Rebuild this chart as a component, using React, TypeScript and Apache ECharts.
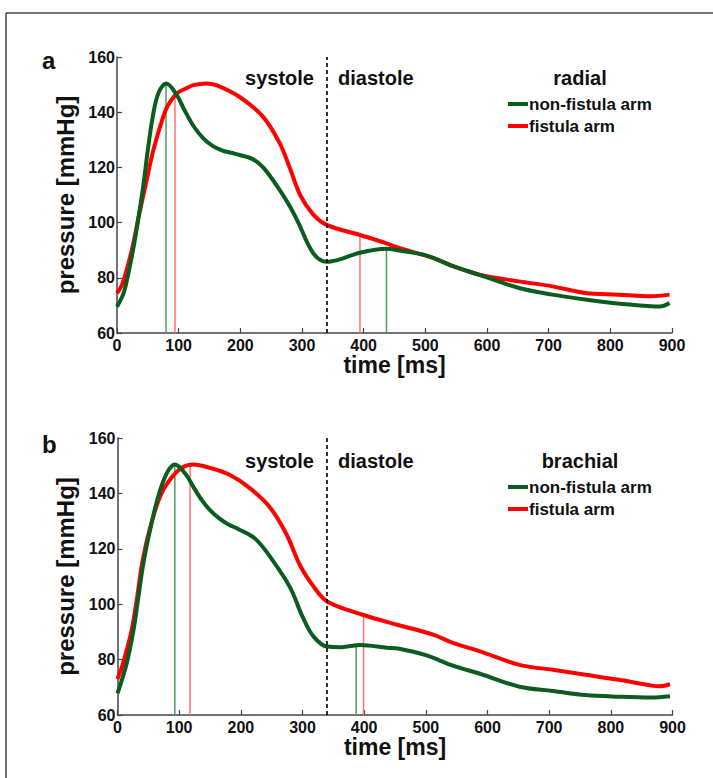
import React, { useEffect, useRef } from "react";
import * as echarts from "echarts";

// ---------- data ----------
const timeTicks = [0, 100, 200, 300, 400, 500, 600, 700, 800, 900];
const pressureTicks = [60, 80, 100, 120, 140, 160];
const phaseBoundary = 340;

// panel a: radial
const radialGreenT = [0, 10, 15, 26, 35, 43, 50, 58, 67, 80, 97, 110, 124, 140, 155, 170, 185, 199, 220, 237, 264, 280, 294, 318, 340, 360, 394, 437, 455, 500, 545, 589, 652, 706, 759, 800, 866, 880, 896];
const radialGreenP = [69.5, 74, 78, 90, 102, 114, 126.3, 138.4, 146.8, 150.4, 146.2, 140.5, 135, 130.5, 127.8, 126.2, 125.3, 124.5, 123, 120, 111.8, 106, 100, 89, 85.8, 86.6, 89.1, 90.5, 90, 88.2, 84.2, 81, 76.3, 73.9, 72.1, 71, 69.7, 69.6, 70.9];
const radialRedT = [0, 9, 24, 35, 47, 59, 75, 83, 97, 112, 124, 145, 161, 199, 237, 264, 280, 297, 318, 340, 394, 437, 455, 513, 545, 589, 652, 706, 759, 813, 866, 896];
const radialRedP = [74.4, 78, 90, 102, 114.2, 126.3, 138.4, 142.6, 146.8, 148.6, 149.8, 150.4, 149.8, 145.5, 138.3, 128.7, 120, 110, 103, 99.2, 95.5, 92.5, 91, 87.1, 84.2, 81, 78.7, 76.9, 74.5, 73.9, 73.3, 73.9];
const radialGreenMarkT = [79.5, 437];
const radialGreenMarkP = [150.4, 90.5];
const radialRedMarkT = [94, 394];
const radialRedMarkP = [146.3, 95.5];

// panel b: brachial
const brachialGreenT = [0, 15, 26, 34, 42, 53, 66, 80, 93, 100, 112, 124, 137, 150, 165, 180, 197, 224, 251, 280, 300, 318, 340, 363, 394, 437, 455, 500, 544, 589, 652, 706, 759, 813, 866, 896];
const brachialGreenP = [67.8, 78.7, 90.7, 102.8, 114.8, 126.9, 138.9, 147.3, 150.4, 149.6, 146.5, 142, 137.5, 134, 131, 128.8, 127, 123.5, 116, 106, 95.5, 88.3, 84.7, 84.5, 85.3, 84.3, 84, 81.6, 77.8, 74.8, 70.2, 68.7, 67.2, 66.6, 66.3, 66.8];
const brachialRedT = [0, 9, 23, 32, 40, 52, 69, 85, 104, 123, 150, 181, 214, 246, 273, 297, 318, 340, 399, 455, 513, 544, 589, 652, 706, 759, 813, 866, 880, 896];
const brachialRedP = [73, 78.7, 90.7, 102.8, 114.8, 126.9, 138.9, 144.9, 149.2, 150.4, 149.2, 146.8, 142, 135.3, 125.7, 113.6, 106.4, 101, 96.1, 92.5, 88.9, 86, 82.9, 78.1, 76.3, 74.5, 72.7, 70.6, 70.4, 71.1];
const brachialGreenMarkT = [93, 387];
const brachialGreenMarkP = [150.4, 84.6];
const brachialRedMarkT = [117.6, 399];
const brachialRedMarkP = [150.3, 96.1];

const panelLetters = ["a", "b"];
const panelSites = ["radial", "brachial"];
const phaseNames = ["systole", "diastole"];
const seriesNames = ["non-fistula arm", "fistula arm"];

// ---------- styles ----------
const FONT = "'Liberation Sans', Arial, Helvetica, sans-serif";
const GREEN = "#0b5c1f";
const RED = "#ff0000";
const GREEN_THIN = "#4f9a60";
const RED_THIN = "#ff7070";

const zip = (t: number[], p: number[]) => t.map((v, i) => [v, p[i]]);

const grids = [
  { left: 117, top: 57, width: 555, height: 276 },
  { left: 117.5, top: 438, width: 555, height: 277 },
];

function makeXAxis(gridIndex: number) {
  return {
    type: "value",
    gridIndex,
    min: timeTicks[0],
    max: timeTicks[timeTicks.length - 1],
    interval: 100,
    name: "time [ms]",
    nameLocation: "middle",
    nameGap: 19,
    nameTextStyle: { fontFamily: FONT, fontWeight: "bold", fontSize: 23, color: "#111", verticalAlign: "top" },
    axisLine: { show: true, lineStyle: { color: "#444", width: 1.5 } },
    axisTick: { show: true, inside: true, length: 5, lineStyle: { color: "#444", width: 1.2 } },
    axisLabel: { fontFamily: FONT, fontWeight: "bold", fontSize: 16, color: "#111", margin: 4 },
    splitLine: { show: false },
  };
}

function makeYAxis(gridIndex: number) {
  return {
    type: "value",
    gridIndex,
    min: pressureTicks[0],
    max: pressureTicks[pressureTicks.length - 1],
    interval: 20,
    name: "pressure [mmHg]",
    nameLocation: "middle",
    nameGap: 21,
    nameTextStyle: { fontFamily: FONT, fontWeight: "bold", fontSize: 24, color: "#111" },
    axisLine: { show: true, lineStyle: { color: "#444", width: 1.5 } },
    axisTick: { show: true, inside: true, length: 5, lineStyle: { color: "#444", width: 1.2 } },
    axisLabel: { fontFamily: FONT, fontWeight: "bold", fontSize: 16, color: "#111", margin: 2 },
    splitLine: { show: false },
  };
}

function curve(name: string, idx: number, t: number[], p: number[], color: string, withBoundary: boolean) {
  const s: any = {
    type: "line",
    name,
    xAxisIndex: idx,
    yAxisIndex: idx,
    data: zip(t, p),
    smooth: 0.35,
    symbol: "none",
    lineStyle: { color, width: 4 },
    itemStyle: { color },
    z: 3,
  };
  if (withBoundary) {
    s.markLine = {
      silent: true,
      symbol: "none",
      label: { show: false },
      lineStyle: { color: "#000", width: 1.6, type: [4, 3] },
      data: [{ xAxis: phaseBoundary }],
    };
  }
  return s;
}

function markers(name: string, idx: number, t: number[], p: number[], color: string) {
  return t.map((tv, i) => ({
    type: "line",
    name: `${name} marker ${i + 1}`,
    xAxisIndex: idx,
    yAxisIndex: idx,
    data: [
      [tv, pressureTicks[0]],
      [tv, p[i]],
    ],
    symbol: "none",
    lineStyle: { color, width: 1.5 },
    z: 2,
  }));
}

export default function App() {
  const ref = useRef<HTMLDivElement>(null);
  useEffect(() => {
    document.body.style.margin = "0";
    if (!ref.current) return;
    const chart = echarts.init(ref.current, undefined, { renderer: "svg" });

    const textBase = { fontFamily: FONT, fontWeight: "bold", fill: "#111" };
    const graphic: any[] = [
      { type: "line", shape: { x1: 6, y1: 13, x2: 6, y2: 778 }, style: { stroke: "#444", lineWidth: 1.5 } },
      { type: "line", shape: { x1: 6, y1: 13, x2: 713, y2: 13 }, style: { stroke: "#444", lineWidth: 1.5 } },
    ];
    const titleY = [78, 461];
    const letterY = [48, 432];
    [0, 1].forEach((k) => {
      graphic.push({ type: "text", x: 42, y: letterY[k], style: { ...textBase, text: panelLetters[k], fontSize: 24, textVerticalAlign: "alphabetic" } });
      graphic.push({ type: "text", x: 314, y: titleY[k], style: { ...textBase, text: phaseNames[0], fontSize: 20, textAlign: "right", textVerticalAlign: "middle" } });
      graphic.push({ type: "text", x: 338, y: titleY[k], style: { ...textBase, text: phaseNames[1], fontSize: 20, textAlign: "left", textVerticalAlign: "middle" } });
      graphic.push({ type: "text", x: 580, y: titleY[k], style: { ...textBase, text: panelSites[k], fontSize: 20, textAlign: "center", textVerticalAlign: "middle" } });
    });

    const legendBase = {
      orient: "vertical",
      left: 508,
      icon: "rect",
      itemWidth: 20,
      itemHeight: 4,
      itemGap: 2,
      data: seriesNames,
      textStyle: { fontFamily: FONT, fontWeight: "bold", fontSize: 17, color: "#111", lineHeight: 20, padding: [0, 0, 0, -4] },
      padding: 0,
      selectedMode: false,
    };

    chart.setOption({
      animation: false,
      backgroundColor: "#fff",
      grid: grids,
      xAxis: [makeXAxis(0), makeXAxis(1)],
      yAxis: [makeYAxis(0), makeYAxis(1)],
      legend: [
        { ...legendBase, top: 94 },
        { ...legendBase, top: 477 },
      ],
      graphic,
      series: [
        ...markers("radial non-fistula", 0, radialGreenMarkT, radialGreenMarkP, GREEN_THIN),
        ...markers("radial fistula", 0, radialRedMarkT, radialRedMarkP, RED_THIN),
        ...markers("brachial non-fistula", 1, brachialGreenMarkT, brachialGreenMarkP, GREEN_THIN),
        ...markers("brachial fistula", 1, brachialRedMarkT, brachialRedMarkP, RED_THIN),
        curve(seriesNames[1], 0, radialRedT, radialRedP, RED, true),
        curve(seriesNames[0], 0, radialGreenT, radialGreenP, GREEN, false),
        curve(seriesNames[1], 1, brachialRedT, brachialRedP, RED, true),
        curve(seriesNames[0], 1, brachialGreenT, brachialGreenP, GREEN, false),
      ],
    });
    return () => chart.dispose();
  }, []);
  return <div ref={ref} style={{ width: 713, height: 778 }} />;
}
